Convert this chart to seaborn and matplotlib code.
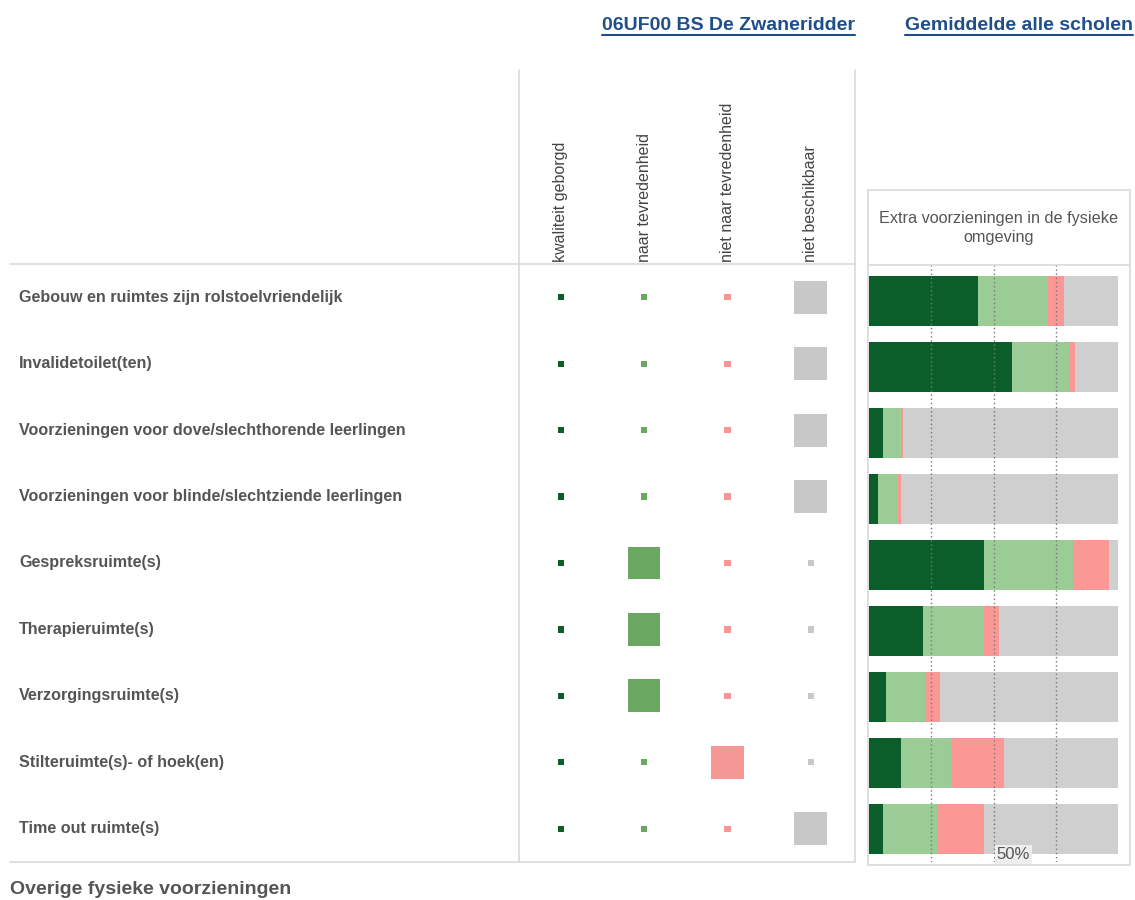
import numpy as np
import pandas as pd
import matplotlib
matplotlib.use("Agg")
import matplotlib.pyplot as plt
import seaborn as sns
from matplotlib.transforms import blended_transform_factory
from matplotlib.lines import Line2D
from matplotlib.patches import Rectangle

# Data
items = [
    "Gebouw en ruimtes zijn rolstoelvriendelijk",
    "Invalidetoilet(ten)",
    "Voorzieningen voor dove/slechthorende leerlingen",
    "Voorzieningen voor blinde/slechtziende leerlingen",
    "Gespreksruimte(s)",
    "Therapieruimte(s)",
    "Verzorgingsruimte(s)",
    "Stilteruimte(s)- of hoek(en)",
    "Time out ruimte(s)",
]
categories = ["kwaliteit geborgd", "naar tevredenheid", "niet naar tevredenheid", "niet beschikbaar"]
school_status = [
    "niet beschikbaar", "niet beschikbaar", "niet beschikbaar", "niet beschikbaar",
    "naar tevredenheid", "naar tevredenheid", "naar tevredenheid",
    "niet naar tevredenheid", "niet beschikbaar",
]
# average of all schools (%)
avg_kwaliteit = [43.8, 57.4, 5.6, 3.6, 46.2, 21.7, 6.8, 12.9, 5.6]
avg_tevreden = [28.1, 22.9, 7.3, 8.0, 35.7, 24.5, 15.7, 20.0, 21.7]
avg_niet_tevreden = [6.4, 2.4, 0.8, 1.3, 14.5, 6.0, 6.0, 21.3, 18.9]
avg_niet_beschikbaar = [21.7, 17.3, 86.3, 87.1, 3.6, 47.8, 71.5, 45.8, 53.8]

square_colors = ["#0b5e2a", "#6aa862", "#f59794", "#c8c8c8"]
bar_colors = ["#0b5e2a", "#9ccc96", "#fb9795", "#cfcfcf"]
grid_col = "#d9d9d9"
txt_col = "#555555"

sns.set_theme(style="white")
plt.rcParams["font.family"] = ["Liberation Sans", "DejaVu Sans"]

W, H = 1135, 900
fig = plt.figure(figsize=(W / 100, H / 100), dpi=100)


def fx(px):
    return px / W


def fy(py):
    return 1 - py / H


def rect(x0, y0, x1, y1):
    return [fx(x0), fy(y1), fx(x1) - fx(x0), fy(y0) - fy(y1)]


# Squares panel
sq = pd.DataFrame(
    [(i, j, cat, cat == school_status[i]) for i in range(len(items)) for j, cat in enumerate(categories)],
    columns=["row", "col", "cat", "selected"],
)
sq["size"] = np.where(sq["selected"], "big", "small")

ax = fig.add_axes(rect(519, 264, 855, 862))
sns.scatterplot(
    data=sq, x="col", y="row", hue="cat", hue_order=categories, palette=square_colors,
    size="size", sizes={"big": 560, "small": 20}, marker="s", linewidth=0,
    legend=False, ax=ax,
)
ax.set_xlim(-0.5, 3.53)
ax.set_ylim(len(items) - 0.5, -0.5)
ax.set_axis_off()

# Row labels
tr = blended_transform_factory(fig.transFigure, ax.transData)
for i, lab in enumerate(items):
    ax.text(fx(19), i, lab, transform=tr, ha="left", va="center",
            fontsize=11.6, fontweight="bold", color=txt_col)

# Column headers (rotated)
trc = blended_transform_factory(ax.transData, fig.transFigure)
for j, cat in enumerate(categories):
    ax.text(j, fy(262), cat, transform=trc, rotation=90, ha="center", va="bottom",
            fontsize=11.5, color="#444444")

# Bars panel
axr = fig.add_axes(rect(868, 264, 1130, 862))
cum1 = np.array(avg_kwaliteit)
cum2 = cum1 + np.array(avg_tevreden)
cum3 = cum2 + np.array(avg_niet_tevreden)
cum4 = cum3 + np.array(avg_niet_beschikbaar)
for vals, c in zip([cum4, cum3, cum2, cum1], bar_colors[::-1]):
    sns.barplot(x=vals, y=items, orient="h", color=c, width=0.75,
                saturation=1, linewidth=0, ax=axr)
axr.set_xlim(-0.4, 104.8)
axr.set_ylim(len(items) - 0.5, -0.56)
for v in [25, 50, 75]:
    axr.axvline(v, color="#777777", linestyle=(0, (1, 2)), linewidth=1.0, zorder=5)
axr.text(51.2, len(items) - 0.5, "50%", ha="left", va="bottom", fontsize=12, color=txt_col,
         bbox=dict(facecolor="#eeeeee", edgecolor="none", pad=1.5), zorder=6)
axr.set_axis_off()

# Frame lines
for (x0, y0, x1, y1) in [(10, 264, 855, 264), (10, 862, 855, 862),
                         (519, 70, 519, 862), (855, 70, 855, 862),
                         (868, 265, 1130, 265)]:
    fig.add_artist(Line2D([fx(x0), fx(x1)], [fy(y0), fy(y1)], color=grid_col, linewidth=1.2))
fig.add_artist(Rectangle((fx(868), fy(865)), fx(1130) - fx(868), fy(190) - fy(865),
                         transform=fig.transFigure, fill=False, edgecolor=grid_col, linewidth=1.2))

fig.text(fx(999), fy(228), "Extra voorzieningen in de fysieke\nomgeving", ha="center", va="center",
         fontsize=11.7, color=txt_col, linespacing=1.3)

# Header links
hdr_font = ["Liberation Sans Narrow", "Liberation Sans", "DejaVu Sans"]
h1 = fig.text(fx(855), fy(25), "06UF00 BS De Zwaneridder", ha="right", va="center",
              fontsize=14, fontweight="bold", color="#1f4e8c", family=hdr_font)
h2 = fig.text(fx(1133), fy(25), "Gemiddelde alle scholen", ha="right", va="center",
              fontsize=14, fontweight="bold", color="#1f4e8c", family=hdr_font)

fig.text(fx(10), fy(889), "Overige fysieke voorzieningen", ha="left", va="center",
         fontsize=14, fontweight="bold", color=txt_col)

fig.canvas.draw()
rend = fig.canvas.get_renderer()
inv = fig.transFigure.inverted()
for h in [h1, h2]:
    bb = h.get_window_extent(rend).transformed(inv)
    fig.add_artist(Line2D([bb.x0, bb.x1], [bb.y0 - 0.002, bb.y0 - 0.002],
                          color="#1f4e8c", linewidth=1.5))

fig.savefig("out.png", dpi=100)
